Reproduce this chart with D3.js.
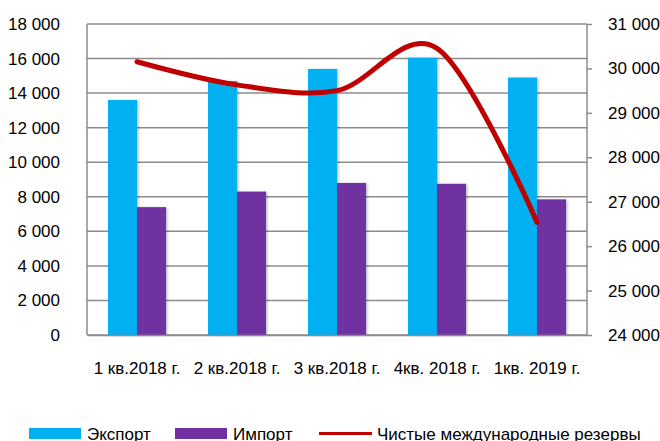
<!DOCTYPE html>
<html>
<head>
<meta charset="utf-8">
<script src="https://cdn.jsdelivr.net/npm/d3@7"></script>
<style>
  body { margin: 0; background: #fff; }
  svg { display: block; font-family: "Liberation Sans", Arial, sans-serif; }
</style>
</head>
<body>
<svg id="chart" width="660" height="441"></svg>
<script>
// data
const categories = ["1 кв.2018 г.", "2 кв.2018 г.", "3 кв.2018 г.", "4кв. 2018 г.", "1кв. 2019 г."];
const exportValues = [13600, 14700, 15400, 16050, 14900];
const importValues = [7400, 8300, 8800, 8750, 7850];
const reserveValues = [30150, 29630, 29500, 30450, 26540];
const leftTicks = [0, 2000, 4000, 6000, 8000, 10000, 12000, 14000, 16000, 18000];
const rightTicks = [24000, 25000, 26000, 27000, 28000, 29000, 30000, 31000];
const seriesNames = ["Экспорт", "Импорт", "Чистые международные резервы"];

const colors = { exp: "#00b0f0", imp: "#7030a0", res: "#c00000", grid: "#8c8c8c" };
const fmt = v => d3.format(",")(v).replace(/,/g, " ");

const svg = d3.select("#chart");
const plotLeft = 87, plotRight = 587, plotTop = 24, plotBottom = 335;
const fontSize = 17;

const x = d3.scaleBand().domain(categories).range([plotLeft, plotRight]).padding(0);
const x1 = d3.scaleBand().domain(["exp", "imp"]).range([0, x.bandwidth()]).paddingInner(0).paddingOuter(0.724);
const yL = d3.scaleLinear().domain([0, 18000]).range([plotBottom, plotTop]);
const yR = d3.scaleLinear().domain([24000, 31000]).range([plotBottom, plotTop]);

// shadow for bars
const defs = svg.append("defs");
const f = defs.append("filter").attr("id", "shadow").attr("x", "-20%").attr("y", "-5%").attr("width", "150%").attr("height", "115%");
f.append("feDropShadow").attr("dx", 1.5).attr("dy", 0.5).attr("stdDeviation", 1.2)
  .attr("flood-color", "#000").attr("flood-opacity", 0.25);

// gridlines
svg.append("g")
  .selectAll("line")
  .data(leftTicks)
  .join("line")
  .attr("x1", plotLeft).attr("x2", plotRight)
  .attr("y1", d => yL(d)).attr("y2", d => yL(d))
  .attr("stroke", colors.grid)
  .attr("stroke-width", 1.5);

// bars
const groups = svg.append("g")
  .selectAll("g")
  .data(categories)
  .join("g")
  .attr("transform", d => `translate(${x(d)},0)`);

groups.append("rect")
  .attr("x", x1("exp"))
  .attr("width", x1.bandwidth())
  .attr("y", (d, i) => yL(exportValues[i]))
  .attr("height", (d, i) => plotBottom - yL(exportValues[i]))
  .attr("fill", colors.exp)
  .attr("filter", "url(#shadow)");

groups.append("rect")
  .attr("x", x1("imp"))
  .attr("width", x1.bandwidth())
  .attr("y", (d, i) => yL(importValues[i]))
  .attr("height", (d, i) => plotBottom - yL(importValues[i]))
  .attr("fill", colors.imp)
  .attr("filter", "url(#shadow)");

// axis lines
svg.append("line").attr("x1", plotLeft).attr("x2", plotLeft).attr("y1", plotTop).attr("y2", plotBottom)
  .attr("stroke", colors.grid).attr("stroke-width", 1.5);
svg.append("line").attr("x1", plotRight).attr("x2", plotRight).attr("y1", plotTop).attr("y2", plotBottom)
  .attr("stroke", colors.grid).attr("stroke-width", 1.5);

// left axis
const axL = svg.append("g")
  .attr("transform", `translate(${plotLeft},0)`)
  .call(d3.axisLeft(yL).tickValues(leftTicks).tickFormat(fmt).tickSize(0).tickPadding(27));
axL.select(".domain").remove();
axL.selectAll("text").attr("font-size", fontSize).attr("fill", "#000").attr("font-family", "Liberation Sans");

// right axis
const axR = svg.append("g")
  .attr("transform", `translate(${plotRight},0)`)
  .call(d3.axisRight(yR).tickValues(rightTicks).tickFormat(fmt).tickSize(5).tickPadding(16));
axR.select(".domain").remove();
axR.selectAll("line").attr("stroke", colors.grid).attr("stroke-width", 1.5);
axR.selectAll("text").attr("font-size", fontSize).attr("fill", "#000").attr("font-family", "Liberation Sans");

// bottom axis
const axB = svg.append("g")
  .attr("transform", `translate(0,${plotBottom})`)
  .call(d3.axisBottom(x).tickSize(0).tickPadding(27));
axB.select(".domain").attr("stroke", colors.grid).attr("stroke-width", 1.5);
axB.selectAll("text").attr("font-size", fontSize).attr("fill", "#000").attr("font-family", "Liberation Sans");

// reserves line
const line = d3.line()
  .x((d, i) => x(categories[i]) + x.bandwidth() / 2)
  .y(d => yR(d))
  .curve(d3.curveCardinal.tension(0));

svg.append("path")
  .datum(reserveValues)
  .attr("d", line)
  .attr("fill", "none")
  .attr("stroke", colors.res)
  .attr("stroke-width", 5)
  .attr("stroke-linecap", "round");

// legend
const legend = svg.append("g").attr("font-size", fontSize);
const legendItems = [
  { name: seriesNames[0], color: colors.exp, type: "rect", x: 29 },
  { name: seriesNames[1], color: colors.imp, type: "rect", x: 175 },
  { name: seriesNames[2], color: colors.res, type: "line", x: 319 }
];
legendItems.forEach(it => {
  if (it.type === "rect") {
    legend.append("rect").attr("x", it.x).attr("y", 428).attr("width", 52).attr("height", 11).attr("fill", it.color);
  } else {
    legend.append("line").attr("x1", it.x).attr("x2", it.x + 53).attr("y1", 433.5).attr("y2", 433.5)
      .attr("stroke", it.color).attr("stroke-width", 3);
  }
  legend.append("text").attr("x", it.x + 58).attr("y", 440).text(it.name);
});
</script>
</body>
</html>
